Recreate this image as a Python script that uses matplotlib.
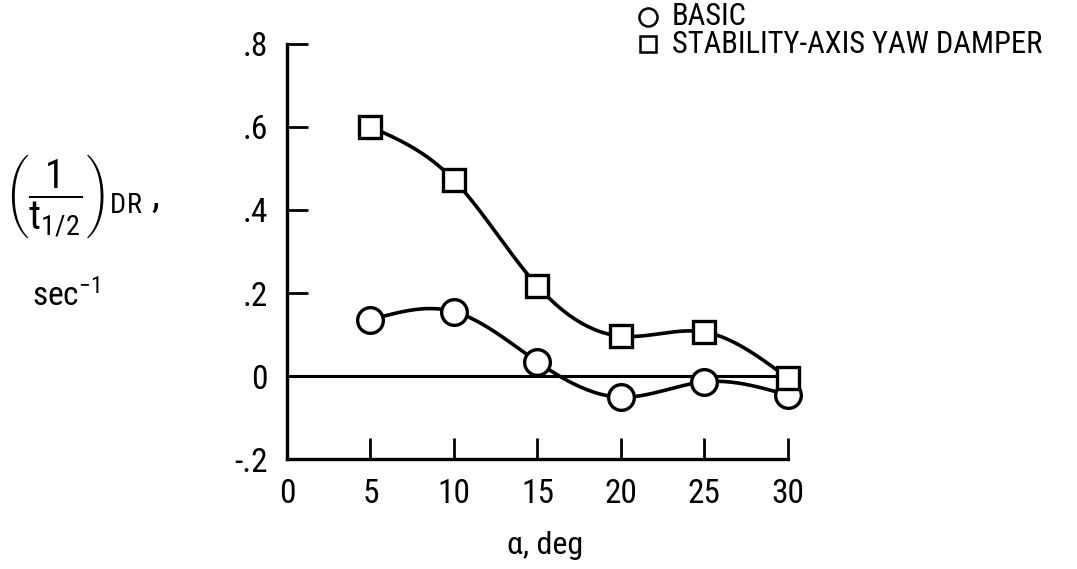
import numpy as np
import matplotlib
matplotlib.use("Agg")
import matplotlib.pyplot as plt

alpha = [5, 10, 15, 20, 25, 30]
basic = [0.135, 0.155, 0.034, -0.051, -0.014, -0.046]
yaw_damper = [0.60, 0.472, 0.217, 0.096, 0.106, -0.005]
yticks = [-0.2, 0, 0.2, 0.4, 0.6, 0.8]
ytick_labels = ["-.2", "0", ".2", ".4", ".6", ".8"]
xticks = [0, 5, 10, 15, 20, 25, 30]

FONT = ["Roboto Condensed", "DejaVu Sans"]
plt.rcParams["font.family"] = FONT
plt.rcParams["mathtext.fontset"] = "custom"
plt.rcParams["mathtext.rm"] = FONT[0]
plt.rcParams["mathtext.it"] = FONT[0] + ":italic"


def faired(x, y, n=200):
    # natural cubic spline, to mimic the hand-faired curves
    x = np.asarray(x, float)
    y = np.asarray(y, float)
    k = len(x)
    h = np.diff(x)
    A = np.zeros((k, k))
    b = np.zeros(k)
    A[0, 0] = A[-1, -1] = 1
    for i in range(1, k - 1):
        A[i, i - 1] = h[i - 1]
        A[i, i] = 2 * (h[i - 1] + h[i])
        A[i, i + 1] = h[i]
        b[i] = 6 * ((y[i + 1] - y[i]) / h[i] - (y[i] - y[i - 1]) / h[i - 1])
    M = np.linalg.solve(A, b)
    xs = np.linspace(x[0], x[-1], n)
    idx = np.clip(np.searchsorted(x, xs) - 1, 0, k - 2)
    x0, x1 = x[idx], x[idx + 1]
    hh = x1 - x0
    ys = (M[idx] * (x1 - xs) ** 3 / (6 * hh) + M[idx + 1] * (xs - x0) ** 3 / (6 * hh)
          + (y[idx] / hh - M[idx] * hh / 6) * (x1 - xs)
          + (y[idx + 1] / hh - M[idx + 1] * hh / 6) * (xs - x0))
    return xs, ys


fig = plt.figure(figsize=(10.77, 5.69), dpi=100)
ax = fig.add_axes([0.2665, 0.1933, 0.465, 0.7294])

ax.plot([0, 30.6], [0, 0], color="black", lw=2.2, clip_on=False, zorder=1)

for vals, mk, ms in [(basic, "o", 18.5), (yaw_damper, "s", 16.5)]:
    xs, ys = faired(alpha, vals)
    ax.plot(xs, ys, color="black", lw=2.6, zorder=2, clip_on=False)
    ax.plot(alpha, vals, linestyle="none", marker=mk, ms=ms, mfc="white",
            mec="black", mew=2.4, zorder=3, clip_on=False)

ax.set_xlim(0, 30)
ax.set_ylim(-0.2, 0.8)
ax.set_xticks(xticks)
ax.set_xticklabels([str(v) for v in xticks])
ax.set_yticks(yticks)
ax.set_yticklabels(ytick_labels)
ax.spines["top"].set_visible(False)
ax.spines["right"].set_visible(False)
for s in ["left", "bottom"]:
    ax.spines[s].set_linewidth(2.4)
ax.tick_params(direction="in", length=15, width=2, labelsize=24)
ax.tick_params(axis="y", pad=14)
ax.tick_params(axis="x", pad=14)

fig.text(0.506, 0.042, "α, deg", fontsize=23, ha="center", va="center")

fig.text(0.004, 0.655, r"$\left(\dfrac{\mathrm{1}}{\mathrm{t_{1/2}}}\right)_{\mathrm{DR}}$ ,",
         fontsize=29, ha="left", va="center")
fig.text(0.03, 0.48, r"sec$^{-\mathrm{1}}$", fontsize=24, ha="left", va="center")

# legend
fig.lines.append(plt.Line2D([0.6017], [0.971], transform=fig.transFigure, marker="o",
                            ms=13, mfc="white", mec="black", mew=1.8))
fig.lines.append(plt.Line2D([0.6017], [0.922], transform=fig.transFigure, marker="s",
                            ms=12, mfc="white", mec="black", mew=1.8))
fig.text(0.624, 0.971, "BASIC", fontsize=22, ha="left", va="center")
fig.text(0.624, 0.922, "STABILITY-AXIS YAW DAMPER", fontsize=22, ha="left", va="center")

fig.savefig("out.png", dpi=100)
